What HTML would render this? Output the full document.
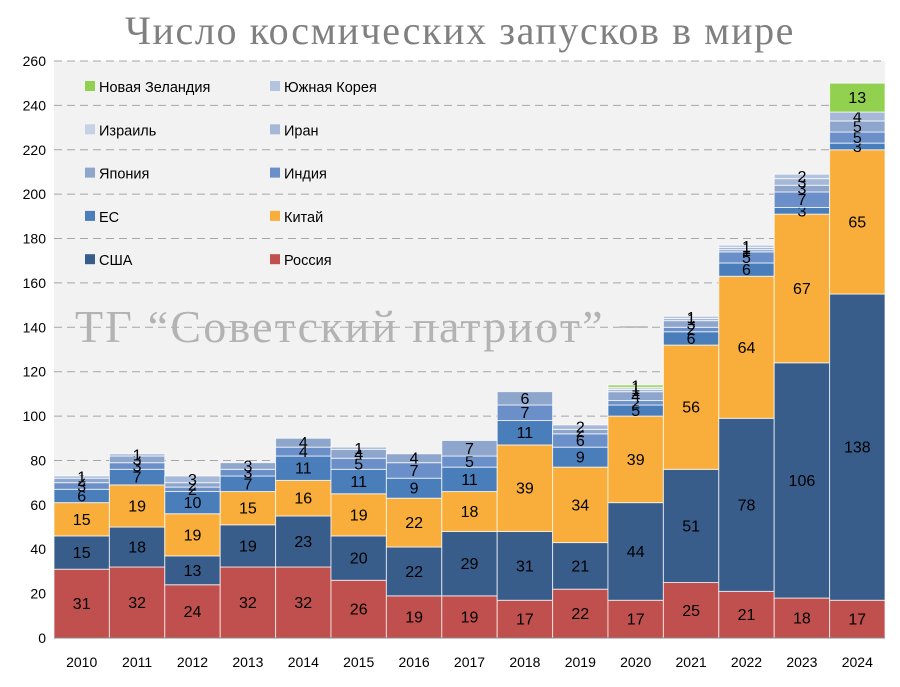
<!DOCTYPE html>
<html><head><meta charset="utf-8"><style>
body{margin:0;background:#fff;width:900px;height:687px;overflow:hidden}
svg{display:block}
</style></head><body>
<svg id="c" width="900" height="687" font-family="'Liberation Sans', sans-serif"></svg>
<script>
const years=[2010,2011,2012,2013,2014,2015,2016,2017,2018,2019,2020,2021,2022,2023,2024];
const seriesNames=["Россия","США","Китай","ЕС","Индия","Япония","Иран","Израиль","Южная Корея","Новая Зеландия"];
const russia=[31,32,24,32,32,26,19,19,17,22,17,25,21,18,17];
const usa=[15,18,13,19,23,20,22,29,31,21,44,51,78,106,138];
const china=[15,19,19,15,16,19,22,18,39,34,39,56,64,67,65];
const eu=[6,7,10,7,11,11,9,11,11,9,5,6,6,3,3];
const india=[3,3,2,3,4,5,7,5,7,6,2,2,5,7,5];
const japan=[2,3,2,3,4,4,4,7,6,2,4,3,1,3,5];
const iran=[1,1,3,0,0,1,0,0,0,2,1,1,1,3,4];
const israel=[0,0,0,0,0,0,0,0,0,0,1,0,0,0,0];
const korea=[0,0,0,0,0,0,0,0,0,0,0,1,1,2,0];
const nz=[0,0,0,0,0,0,0,0,0,0,1,0,0,0,13];
const yTicks=[0,20,40,60,80,100,120,140,160,180,200,220,240,260];
const series=[russia,usa,china,eu,india,japan,iran,israel,korea,nz];
const colors=["#c0504d","#385d8a","#f9ae3b","#4a7ebb","#6b8fc8","#8fa6cc","#a5b8d8","#c5d2e6","#b4c4df","#92d050"];
const NS="http://www.w3.org/2000/svg";
const svg=document.getElementById('c');
const L=54,R=885,T=61,B=638,MAX=260;
const y=v=>B-(v/MAX)*(B-T);
const bw=(R-L)/years.length;
const x=i=>L+i*bw;
function mk(tag,attrs,parent){const e=document.createElementNS(NS,tag);for(const k in attrs)e.setAttribute(k,attrs[k]);(parent||svg).appendChild(e);return e;}
const bg=mk('rect',{x:L,y:T,width:R-L,height:B-T,fill:'#f2f2f2'});


const t=mk('text',{x:460,y:44,'text-anchor':'middle','font-size':40,'letter-spacing':'1.6',fill:'#808080','font-family':"'Liberation Serif', serif"});
t.textContent='Число космических запусков в мире';


yTicks.forEach(v=>{
  if(v>0){const g=mk('line',{x1:L,x2:R,y1:y(v),y2:y(v),stroke:'#a6a6a6','stroke-dasharray':'8,5','stroke-width':1});
  
  }
  const tl=mk('text',{x:46,y:y(v)+5,'text-anchor':'end','font-size':14,fill:'#000'});
  tl.textContent=v;
  
  
});
const wm=mk('text',{x:75,y:342,'font-size':46,'letter-spacing':'2.2',fill:'#b3b3b3','font-family':"'Liberation Serif', serif"});
wm.textContent='ТГ “Советский патриот”';


const wd=mk('line',{x1:620,x2:648,y1:327,y2:327,stroke:'#b3b3b3','stroke-width':1.5});


years.forEach((yr,i)=>{
  let acc=0;
  series.forEach((s,k)=>{
    const v=s[i]; if(!v) return;
    const r=mk('rect',{x:x(i),y:y(acc+v),width:bw,height:y(acc)-y(acc+v),fill:colors[k],stroke:'#fff','stroke-opacity':0.7,'stroke-width':1});
    
    
    const lb=mk('text',{x:x(i)+bw/2,y:(y(acc)+y(acc+v))/2+5.5,'text-anchor':'middle','font-size':16,fill:'#000'});
    lb.textContent=v;
    
    
    acc+=v;
  });
  const xl=mk('text',{x:x(i)+bw/2,y:667,'text-anchor':'middle','font-size':14,fill:'#000'});
  xl.textContent=yr;
  
  
});
mk('line',{x1:L,x2:R,y1:B,y2:B,stroke:'#888'});
const legendOrder=[9,8,7,6,5,4,3,2,1,0];
legendOrder.forEach((k,j)=>{
  const col=j%2,row=Math.floor(j/2);
  const lx=col?270:85, ly=87+row*43.3;
  const sq=mk('rect',{x:lx,y:ly-6,width:10,height:10,fill:colors[k]});
  
  
  const lt=mk('text',{x:lx+14,y:ly+5,'font-size':14.5,fill:'#000'});
  lt.textContent=seriesNames[k];
  
  
});
</script>
</body></html>
